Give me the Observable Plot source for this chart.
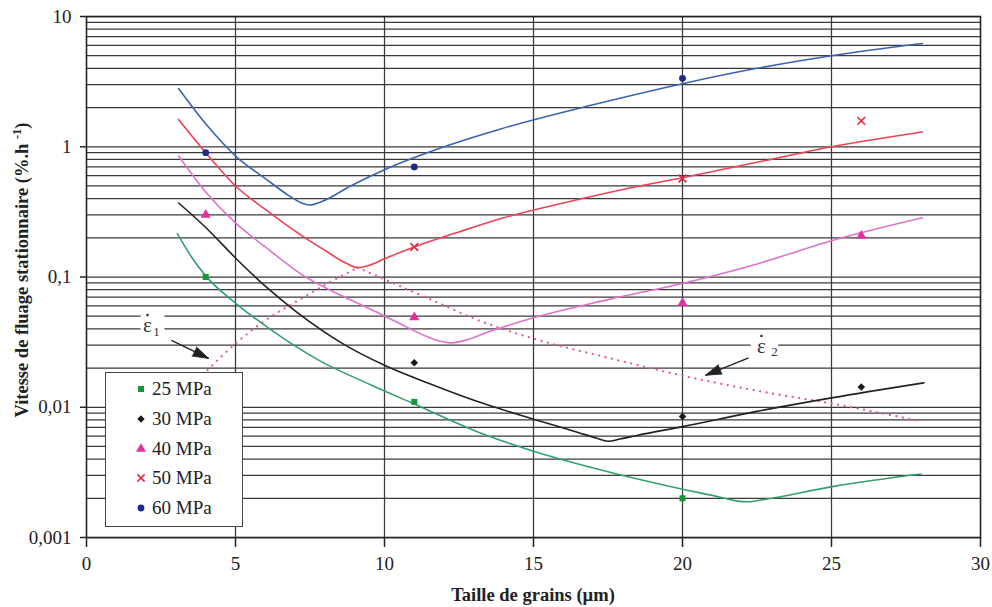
<!DOCTYPE html>
<html>
<head>
<meta charset="utf-8">
<script src="https://cdn.jsdelivr.net/npm/d3@7"></script>
<script src="https://cdn.jsdelivr.net/npm/@observablehq/plot@0.6"></script>
<style>
  body { margin: 0; background: #fff; }
  #wrap { position: relative; width: 992px; height: 607px; overflow: hidden; }
  #legend { position: absolute; left: 105px; top: 372px; width: 138px; height: 155px;
            box-sizing: border-box; border: 1.5px solid #444; background: #fff;
            font-family: "Liberation Serif", "Times New Roman", serif; font-size: 19px; color: #222; }
  .row { position: absolute; left: 0; height: 26px; display: flex; align-items: center; }
  .row svg { margin-left: 29px; margin-right: 5px; }
</style>
</head>
<body>
<div id="wrap"></div>
<script>
// ---- axis ticks ----
const xTicks = [0, 5, 10, 15, 20, 25, 30];
const xGrid = [5, 10, 15, 20, 25];
const yTicks = [0.001, 0.01, 0.1, 1, 10];
const yTickLabels = ["0,001", "0,01", "0,1", "1", "10"];
const yDecades = [0.001, 0.01, 0.1, 1];
const yMinor = [1, 2, 3, 4, 5, 6, 7, 8, 9];

// ---- series ----
const seriesNames = ["25 MPa", "30 MPa", "40 MPa", "50 MPa", "60 MPa"];
const lineColors = ["#34a06e", "#222222", "#e072cc", "#ee4255", "#3a64ad"];
const markColors = ["#16983a", "#1a1a1a", "#e2309c", "#e6263a", "#1c2a8c"];
const markSymbols = ["square", "diamond2", "triangle", "times", "circle"];

// measured points [grain size µm, creep rate %/h]
const pts25 = [[4, 0.1], [11, 0.011], [20, 0.002]];
const pts30 = [[11, 0.022], [20, 0.0085], [26, 0.0143]];
const pts40 = [[4, 0.30], [11, 0.049], [20, 0.063], [26, 0.207]];
const pts50 = [[11, 0.17], [20, 0.57], [26, 1.58]];
const pts60 = [[4, 0.9], [11, 0.70], [20, 3.35]];

// fitted curves
const curve25 = [[3.05, 0.215], [3.5, 0.145], [4, 0.102], [5, 0.063], [6.17, 0.0396], [7.85, 0.0226],
  [9.53, 0.0149], [11, 0.0106], [13.22, 0.00635], [15, 0.0046], [17.5, 0.0032], [20, 0.00235],
  [21.3, 0.00203], [21.8, 0.00191], [22.2, 0.00188], [22.7, 0.00195], [25.08, 0.00247], [28, 0.00307]];
const curve30 = [[3.09, 0.37], [4, 0.24], [5, 0.14], [6, 0.085], [7, 0.055], [8.64, 0.0304], [10, 0.021],
  [11.5, 0.0152], [13, 0.0113], [15, 0.0081], [16.5, 0.0064], [17.1, 0.0058], [17.5, 0.00548],
  [17.9, 0.0057], [18.5, 0.0061], [20, 0.0071], [22.5, 0.0093], [25, 0.0118], [28.1, 0.0154]];
const curve40 = [[3.09, 0.85], [4, 0.45], [5, 0.26], [6, 0.17], [7.29, 0.102], [8.5, 0.073], [9.5, 0.057],
  [10.5, 0.044], [11.5, 0.0343], [11.9, 0.032], [12.2, 0.0312], [12.6, 0.0322], [13.5, 0.038],
  [15, 0.0486], [17.5, 0.067], [20.1, 0.0904], [22.5, 0.126], [25, 0.19], [28.05, 0.285]];
const curve50 = [[3.09, 1.62], [4, 0.9], [5, 0.5], [6, 0.33], [7, 0.225], [8, 0.16], [8.7, 0.128],
  [9.1, 0.118], [9.5, 0.123], [10, 0.138], [11, 0.17], [12.5, 0.222], [14, 0.285], [16, 0.37],
  [18, 0.47], [20, 0.578], [22.5, 0.76], [25, 1.0], [28.05, 1.30]];
const curve60 = [[3.09, 2.8], [4, 1.5], [5.1, 0.81], [6, 0.57], [6.8, 0.42], [7.2, 0.372], [7.5, 0.357],
  [7.9, 0.38], [8.86, 0.50], [10.15, 0.69], [12, 1.0], [13.9, 1.37], [17, 2.1], [20, 3.05],
  [22.5, 4.0], [25, 5.0], [28.05, 6.2]];

// dotted limit lines
const eps1 = [[4.06, 0.0193], [5, 0.0308], [6, 0.0465], [7, 0.064], [8, 0.087], [9.1, 0.118]];
const eps2 = [[9.1, 0.118], [10.09, 0.094], [11.54, 0.0674], [13.22, 0.0459], [15.07, 0.0333],
  [17.5, 0.024], [20.04, 0.0174], [22.5, 0.0134], [25.08, 0.0106], [27.9, 0.0079]];

// annotations (label anchor in data units, subscript text)
const epsLabels = [{x: 2.215, y: 0.0435, sub: "1"}, {x: 22.75, y: 0.029, sub: "2"}];
const epsArrows = [
  {x1: 2.85, y1: 0.0326, x2: 4.1, y2: 0.0237},
  {x1: 22.22, y1: 0.0239, x2: 20.77, y2: 0.0176}
];
// pixel offsets for the label pieces (style)
const epsStyle = [
  {box: 13.5, ex: -5, ey: 1, dotx: -5, doty: -9, sx: 4, sy: 8},
  {box: 15.5, ex: -3, ey: -1, dotx: -3, doty: -11, sx: 10, sy: 5}
];

const points = [pts25, pts30, pts40, pts50, pts60];
const curves = [curve25, curve30, curve40, curve50, curve60];

const yGrid = yDecades.flatMap(d => yMinor.map(m => d * m)).concat([10]);
const toRows = arr => arr.map(([x, y]) => ({x, y}));

const serif = "Liberation Serif, Times New Roman, serif";

const frameOpts = {
  width: 992, height: 607,
  marginLeft: 86, marginRight: 12, marginTop: 16, marginBottom: 70,
  style: {fontFamily: serif, fontSize: "19px", background: "white", color: "#222"},
  x: {domain: [0, 30], label: null},
  y: {type: "log", domain: [0.001, 10], label: null}
};

// scales, to orient the arrowheads
const probe = Plot.plot({...frameOpts, marks: [Plot.frame()]});
const sx = probe.scale("x"), sy = probe.scale("y");
const arrowHeads = epsArrows.map(a => {
  const dx = sx.apply(a.x2) - sx.apply(a.x1);
  const dy = sy.apply(a.y2) - sy.apply(a.y1);
  return {x: a.x2, y: a.y2, angle: Math.atan2(dx, -dy) * 180 / Math.PI};
});

const marks = [
  Plot.ruleY(yGrid, {stroke: "#3a3a3a", strokeWidth: 1.25}),
  Plot.ruleX(xGrid, {stroke: "#3a3a3a", strokeWidth: 1.25}),
  Plot.frame({stroke: "#222", strokeWidth: 1.6}),
  Plot.axisX(xTicks, {tickSize: 10, tickPadding: 9, stroke: "#222", strokeWidth: 1.5, label: null,
    fontSize: 19, fontFamily: serif}),
  Plot.axisY(yTicks, {tickSize: 6, tickPadding: 9, stroke: "#222", strokeWidth: 1.5, label: null,
    fontSize: 19, fontFamily: serif, tickFormat: d => yTickLabels[yTicks.indexOf(d)]}),
  Plot.line(toRows(eps1), {x: "x", y: "y", stroke: "#e2607a", strokeWidth: 2.2, strokeDasharray: "0.1,6.5",
    strokeLinecap: "round", curve: "monotone-x"}),
  Plot.line(toRows(eps2), {x: "x", y: "y", stroke: "#e2607a", strokeWidth: 2.2, strokeDasharray: "0.1,6.5",
    strokeLinecap: "round", curve: "monotone-x"}),
];
curves.forEach((c, i) => {
  marks.push(Plot.line(toRows(c), {x: "x", y: "y", stroke: lineColors[i], strokeWidth: 1.6, curve: "monotone-x"}));
});
points.forEach((p, i) => {
  const sym = markSymbols[i];
  const opts = {x: "x", y: "y", symbol: sym};
  if (sym === "times") Object.assign(opts, {stroke: markColors[i], strokeWidth: 1.6, r: 3.6});
  else Object.assign(opts, {fill: markColors[i], r: sym === "triangle" ? 3.8 : 3.4});
  marks.push(Plot.dot(toRows(p), opts));
});
epsLabels.forEach((l, i) => {
  const s = epsStyle[i];
  marks.push(
    Plot.dot([l], {x: "x", y: "y", symbol: "square", r: s.box, fill: "white"}),
    Plot.text([l], {x: "x", y: "y", text: () => "\u03B5", dx: s.ex, dy: s.ey, fontSize: 21, fill: "#333",
      fontFamily: serif}),
    Plot.dot([l], {x: "x", y: "y", r: 1.3, fill: "#333", dx: s.dotx, dy: s.doty}),
    Plot.text([l], {x: "x", y: "y", text: "sub", dx: s.sx, dy: s.sy, fontSize: 13, fill: "#333", fontFamily: serif})
  );
});
marks.push(
  Plot.link(epsArrows, {x1: "x1", y1: "y1", x2: "x2", y2: "y2", stroke: "#222", strokeWidth: 1.3}),
  Plot.vector(arrowHeads, {x: "x", y: "y", rotate: "angle", length: 16, shape: "spike", r: 5,
    anchor: "end", fill: "#222", stroke: "#222", strokeWidth: 0.8})
);

const plot = Plot.plot({...frameOpts, marks});

// axis titles
const svg = d3.select(plot);
svg.append("text")
  .attr("transform", "translate(28,270) rotate(-90)")
  .attr("text-anchor", "middle")
  .attr("font-family", serif).attr("font-weight", "bold").attr("font-size", 18.5).attr("fill", "#222")
  .call(t => {
    t.append("tspan").text("Vitesse de fluage stationnaire (%.h ");
    t.append("tspan").attr("dy", -7).attr("font-size", 12.5).text("-1");
    t.append("tspan").attr("dy", 7).text(")");
  });
svg.append("text")
  .attr("x", 533).attr("y", 601)
  .attr("text-anchor", "middle")
  .attr("font-family", serif).attr("font-weight", "bold").attr("font-size", 18.5).attr("fill", "#222")
  .text("Taille de grains (\u00B5m)");

const wrap = document.getElementById("wrap");
wrap.appendChild(plot);

// legend
const legend = document.createElement("div");
legend.id = "legend";
wrap.appendChild(legend);
const symTypes = {square: d3.symbolSquare, diamond2: d3.symbolDiamond2, triangle: d3.symbolTriangle,
  times: d3.symbolTimes, circle: d3.symbolCircle};
seriesNames.forEach((name, i) => {
  const row = document.createElement("div");
  row.className = "row";
  row.style.top = (3 + i * 29.8) + "px";
  const s = d3.create("svg").attr("width", 12).attr("height", 12);
  const sym = markSymbols[i];
  const size = sym === "triangle" ? 42 : 36;
  const p = s.append("path").attr("transform", "translate(6,6)")
    .attr("d", d3.symbol(symTypes[sym], size)());
  if (sym === "times") p.attr("fill", "none").attr("stroke", markColors[i]).attr("stroke-width", 1.5);
  else p.attr("fill", markColors[i]);
  row.appendChild(s.node());
  const span = document.createElement("span");
  span.textContent = name;
  row.appendChild(span);
  legend.appendChild(row);
});
</script>
</body>
</html>
